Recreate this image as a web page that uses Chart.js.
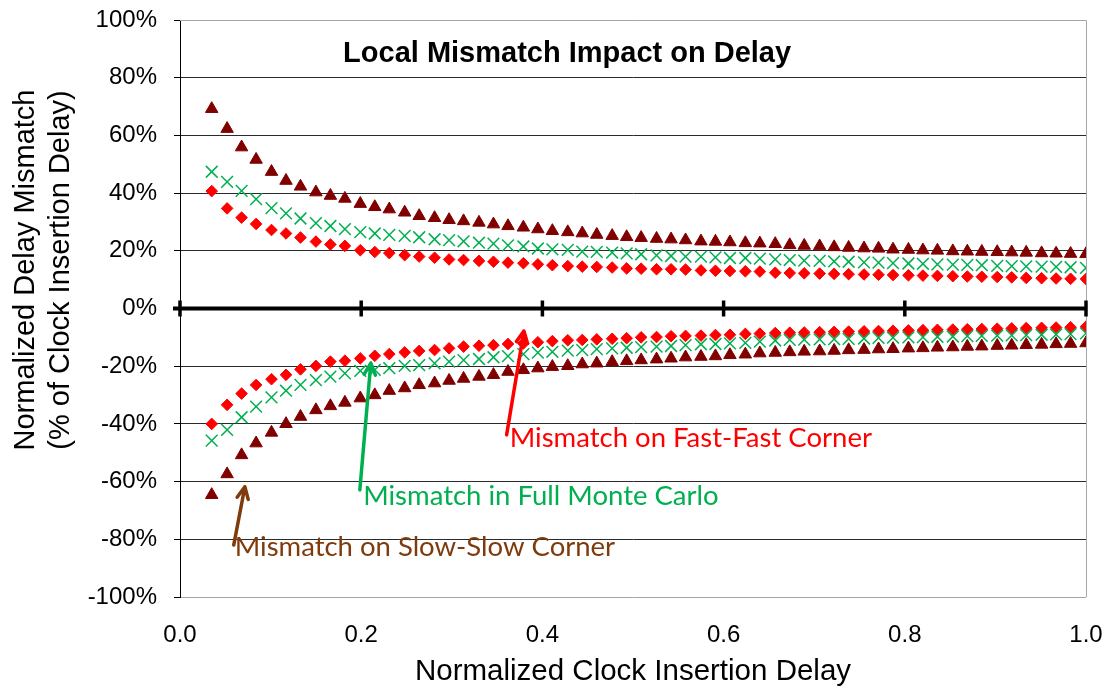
<!DOCTYPE html>
<html>
<head>
<meta charset="utf-8">
<script src="https://cdn.jsdelivr.net/npm/chart.js@4/dist/chart.umd.min.js"></script>
<style>
  html, body { margin: 0; padding: 0; background: #fff; }
  #wrap { width: 1118px; height: 692px; position: relative; }
</style>
</head>
<body>
<div id="wrap"><canvas id="chart"></canvas></div>
<script>
// Normalized clock insertion delay (x positions of the samples)
const xValues = [
  0.035, 0.052, 0.068, 0.084, 0.101, 0.117, 0.133, 0.150, 0.166, 0.182,
  0.199, 0.215, 0.231, 0.248, 0.264, 0.281, 0.297, 0.313, 0.330, 0.346,
  0.362, 0.379, 0.395, 0.411, 0.428, 0.444, 0.460, 0.477, 0.493, 0.509,
  0.526, 0.542, 0.558, 0.575, 0.591, 0.607, 0.624, 0.640, 0.657, 0.673,
  0.689, 0.706, 0.722, 0.738, 0.755, 0.771, 0.787, 0.804, 0.820, 0.836,
  0.853, 0.869, 0.885, 0.902, 0.918, 0.934, 0.951, 0.967, 0.983, 1.000
];

// Mismatch in % of clock insertion delay
const slowSlowUpper = [
  69.2, 62.3, 55.9, 51.6, 47.4, 44.3, 42.3, 40.3, 39.1, 38.1,
  36.3, 35.2, 34.4, 33.3, 32.1, 31.4, 30.7, 30.3, 29.8, 29.2,
  28.6, 28.1, 27.5, 26.9, 26.5, 26.1, 25.6, 25.2, 24.8, 24.5,
  24.2, 24.0, 23.7, 23.3, 23.2, 23.0, 22.7, 22.6, 22.4, 22.0,
  21.8, 21.6, 21.3, 21.1, 20.9, 20.8, 20.5, 20.4, 20.2, 20.1,
  19.9, 19.8, 19.7, 19.6, 19.5, 19.4, 19.2, 19.1, 19.0, 18.9
];
const slowSlowLower = [
  -64.6, -57.4, -50.8, -46.7, -43.0, -40.0, -37.5, -35.2, -33.8, -32.6,
  -31.1, -30.0, -28.5, -27.6, -26.5, -25.9, -25.0, -24.3, -23.6, -23.0,
  -21.9, -21.3, -20.7, -20.2, -19.9, -19.3, -19.0, -18.5, -18.2, -17.9,
  -17.6, -17.3, -16.9, -16.7, -16.5, -16.1, -15.9, -15.5, -15.3, -15.1,
  -14.9, -14.8, -14.6, -14.4, -14.3, -14.1, -14.0, -13.8, -13.7, -13.5,
  -13.4, -13.2, -13.1, -12.9, -12.8, -12.6, -12.5, -12.3, -12.2, -12.0
];
const monteCarloUpper = [
  47.4, 43.9, 40.8, 37.9, 34.8, 33.0, 31.2, 29.6, 28.6, 27.5,
  26.5, 26.0, 25.5, 25.2, 24.7, 24.0, 23.7, 23.3, 22.8, 22.5,
  21.9, 21.5, 20.8, 20.5, 20.3, 19.7, 19.6, 19.4, 19.1, 18.8,
  18.4, 18.2, 18.0, 18.0, 17.7, 17.5, 17.5, 17.3, 17.0, 16.8,
  16.6, 16.5, 16.3, 16.2, 16.0, 15.9, 15.7, 15.6, 15.5, 15.3,
  15.2, 15.1, 15.0, 14.8, 14.7, 14.6, 14.5, 14.4, 14.3, 14.1
];
const monteCarloLower = [
  -45.8, -42.1, -37.7, -34.0, -30.8, -28.5, -26.5, -24.8, -23.6, -22.5,
  -21.6, -21.3, -20.7, -19.9, -19.6, -19.0, -18.4, -17.9, -17.5, -16.9,
  -16.5, -15.8, -15.3, -15.0, -14.6, -14.4, -14.1, -13.8, -13.6, -13.4,
  -13.2, -13.0, -12.7, -12.4, -12.3, -12.1, -11.9, -11.5, -11.1, -10.9,
  -10.8, -10.7, -10.6, -10.5, -10.4, -10.2, -10.1, -10.0, -9.9, -9.8,
  -9.7, -9.6, -9.5, -9.4, -9.3, -9.2, -9.1, -9.0, -8.9, -8.6
];
const fastFastUpper = [
  40.7, 34.7, 31.5, 29.3, 27.2, 26.0, 24.6, 23.2, 22.2, 21.7,
  20.2, 19.6, 19.2, 18.5, 18.0, 17.6, 17.0, 16.8, 16.5, 16.2,
  15.9, 15.7, 15.3, 15.0, 14.7, 14.5, 14.4, 14.2, 13.9, 13.8,
  13.6, 13.6, 13.5, 13.2, 13.1, 13.0, 12.9, 12.8, 12.4, 12.3,
  12.2, 12.1, 12.0, 11.9, 11.8, 11.7, 11.6, 11.5, 11.4, 11.3,
  11.2, 11.1, 11.0, 10.9, 10.8, 10.6, 10.5, 10.4, 10.3, 10.2
];
const fastFastLower = [
  -40.0, -33.4, -29.5, -26.5, -24.5, -23.0, -21.1, -19.9, -18.4, -18.1,
  -17.3, -16.4, -15.8, -15.2, -14.7, -14.4, -13.8, -13.2, -12.9, -12.7,
  -12.3, -12.1, -11.7, -11.3, -11.0, -10.9, -10.7, -10.5, -10.3, -10.0,
  -9.9, -9.6, -9.5, -9.4, -9.2, -9.1, -8.8, -8.7, -8.5, -8.4,
  -8.3, -8.2, -8.1, -8.0, -7.9, -7.8, -7.7, -7.6, -7.5, -7.4,
  -7.3, -7.2, -7.1, -7.0, -6.9, -6.8, -6.7, -6.6, -6.5, -6.3
];

const xTicks = [0, 0.2, 0.4, 0.6, 0.8, 1.0];
const chartTitle = 'Local Mismatch Impact on Delay';
const xTitle = 'Normalized Clock Insertion Delay';
const yTitle = ['Normalized Delay Mismatch', '(% of Clock Insertion Delay)'];

const SS_COLOR = '#800000';
const MC_COLOR = '#00b050';
const FF_COLOR = '#ff0000';

// callouts: arrow tail -> tip, text anchored at its left baseline (data units)
const callouts = [
  { text: 'Mismatch on Fast-Fast Corner', color: '#ff0000', tail: [0.3605, -43.8], tip: [0.3796, -7.8], at: [0.364, -47.9] },
  { text: 'Mismatch in Full Monte Carlo', color: '#00b050', tail: [0.1985, -62.9], tip: [0.2106, -18.9], at: [0.2022, -68.1] },
  { text: 'Mismatch on Slow-Slow Corner', color: '#7f3b0c', tail: [0.0593, -82.0], tip: [0.0716, -61.8], at: [0.0604, -85.8] }
];

const pts = ys => ys.map((y, i) => ({ x: xValues[i], y }));

function series(data, style, color, radius, width) {
  return {
    data: pts(data),
    showLine: false,
    pointStyle: style,
    pointRadius: radius,
    pointBackgroundColor: color,
    pointBorderColor: color,
    pointBorderWidth: width
  };
}

const AXIS_FONT = '"Liberation Sans", Arial, sans-serif';

// zero axis with its tick marks, plot frame, titles and callouts
const decorations = {
  id: 'decorations',
  beforeDatasetsDraw(chart) {
    const { ctx, chartArea: a, scales: { x, y } } = chart;
    const y0 = y.getPixelForValue(0);
    ctx.save();
    ctx.strokeStyle = '#a6a6a6';
    ctx.lineWidth = 1;
    ctx.beginPath();
    ctx.moveTo(a.left, a.top + 0.5);
    ctx.lineTo(a.right + 0.5, a.top + 0.5);
    ctx.lineTo(a.right + 0.5, a.bottom);
    ctx.stroke();

    ctx.strokeStyle = '#000';
    ctx.lineWidth = 4;
    ctx.beginPath();
    ctx.moveTo(a.left - 7, y0);
    ctx.lineTo(a.right, y0);
    ctx.stroke();
    ctx.lineWidth = 3.5;
    xTicks.forEach(v => {
      const px = x.getPixelForValue(v);
      ctx.beginPath();
      ctx.moveTo(px, y0 - 8);
      ctx.lineTo(px, y0 + 8);
      ctx.stroke();
    });

    // y axis title, two rotated lines
    ctx.fillStyle = '#000';
    ctx.font = '29px ' + AXIS_FONT;
    ctx.textAlign = 'center';
    ctx.textBaseline = 'middle';
    ctx.translate(0, 270);
    ctx.rotate(-Math.PI / 2);
    ctx.fillText(yTitle[0], 0, 26);
    ctx.fillText(yTitle[1], 0, 61);
    ctx.restore();
  },
  afterDatasetsDraw(chart) {
    const { ctx, scales: { x, y } } = chart;
    ctx.save();
    ctx.fillStyle = '#000';
    ctx.font = 'bold 29px ' + AXIS_FONT;
    ctx.textBaseline = 'alphabetic';
    ctx.textAlign = 'left';
    ctx.fillText(chartTitle, x.getPixelForValue(0.18), y.getPixelForValue(85.4));

    callouts.forEach(c => {
      const x1 = x.getPixelForValue(c.tail[0]), y1 = y.getPixelForValue(c.tail[1]);
      const x2 = x.getPixelForValue(c.tip[0]), y2 = y.getPixelForValue(c.tip[1]);
      const ang = Math.atan2(y2 - y1, x2 - x1);
      const head = 13, spread = Math.PI / 7;
      ctx.strokeStyle = c.color;
      ctx.lineWidth = 3.5;
      ctx.lineCap = 'round';
      ctx.lineJoin = 'round';
      ctx.beginPath();
      ctx.moveTo(x1, y1);
      ctx.lineTo(x2, y2);
      ctx.moveTo(x2 - head * Math.cos(ang - spread), y2 - head * Math.sin(ang - spread));
      ctx.lineTo(x2, y2);
      ctx.lineTo(x2 - head * Math.cos(ang + spread), y2 - head * Math.sin(ang + spread));
      ctx.stroke();

      ctx.fillStyle = c.color;
      ctx.font = '27.5px Lato, "Open Sans", sans-serif';
      ctx.fillText(c.text, x.getPixelForValue(c.at[0]), y.getPixelForValue(c.at[1]));
    });
    ctx.restore();
  }
};

const tickFont = { family: AXIS_FONT, size: 24 };

new Chart(document.getElementById('chart'), {
  type: 'scatter',
  data: {
    datasets: [
      series(slowSlowUpper, 'triangle', SS_COLOR, 7.2, 1),
      series(slowSlowLower, 'triangle', SS_COLOR, 7.2, 1),
      series(monteCarloUpper, 'crossRot', MC_COLOR, 8.3, 1.5),
      series(monteCarloLower, 'crossRot', MC_COLOR, 8.3, 1.5),
      series(fastFastUpper, 'rectRot', FF_COLOR, 5.8, 1),
      series(fastFastLower, 'rectRot', FF_COLOR, 5.8, 1)
    ]
  },
  options: {
    responsive: true,
    maintainAspectRatio: false,
    animation: false,
    layout: { padding: { top: 20, right: 32, left: 0, bottom: 0 } },
    plugins: {
      legend: { display: false },
      tooltip: { enabled: false },
      title: { display: false }
    },
    scales: {
      x: {
        type: 'linear',
        min: 0,
        max: 1,
        afterBuildTicks: s => { s.ticks = xTicks.map(v => ({ value: v })); },
        ticks: {
          callback: v => Number(v).toFixed(1),
          font: tickFont,
          color: '#000',
          padding: 24,
          maxRotation: 0
        },
        grid: { display: false, drawTicks: false },
        border: { display: false },
        title: { display: true, text: xTitle, font: { family: AXIS_FONT, size: 29.5 }, color: '#000', padding: { top: 0, bottom: 2 } },
        afterFit: s => { s.height = 95; s.paddingLeft = 0; s.paddingRight = 0; }
      },
      y: {
        min: -100,
        max: 100,
        ticks: {
          stepSize: 20,
          callback: v => v + '%',
          font: tickFont,
          color: '#000',
          padding: 17
        },
        grid: {
          color: c => (c.tick && Math.abs(c.tick.value) === 100) ? '#a6a6a6' : '#2a2a2a',
          tickColor: '#000',
          tickLength: 6,
          lineWidth: 1
        },
        border: { display: true, color: '#000', width: 1 },
        title: { display: false },
        afterFit: s => { s.width = 180; s.paddingTop = 0; s.paddingBottom = 0; }
      }
    }
  },
  plugins: [decorations]
});
</script>
</body>
</html>
